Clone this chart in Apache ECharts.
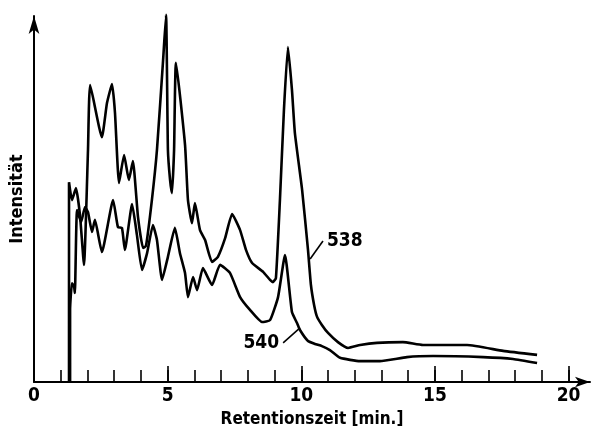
<!DOCTYPE html>
<html>
<head>
<meta charset="utf-8">
<script src="https://cdn.jsdelivr.net/npm/echarts@6/dist/echarts.min.js"></script>
<style>
  html, body { margin: 0; padding: 0; background: #fff; }
  #chart { width: 598px; height: 436px; }
</style>
</head>
<body>
<div id="chart"></div>
<script>
// Retentionszeit [min] / Intensität (relative Einheiten)
var curve538 = [
  [1.31, 0], [1.31, 54.6], [1.42, 49.7], [1.57, 53.0], [1.72, 45.6], [1.87, 32.0],
  [2.02, 63.4], [2.10, 81.1], [2.54, 66.9], [2.73, 76.2], [2.92, 81.4], [3.03, 73.5],
  [3.18, 54.4], [3.37, 62.0], [3.55, 55.2], [3.70, 60.4], [3.89, 45.1], [4.08, 36.6],
  [4.19, 37.2], [4.41, 49.7], [4.60, 63.4], [4.83, 88.0], [4.94, 100.3], [5.01, 63.4],
  [5.09, 55.2], [5.16, 51.6], [5.24, 63.4], [5.31, 87.2], [5.65, 64.8], [5.76, 49.7],
  [5.91, 43.4], [6.02, 48.9], [6.21, 41.5], [6.40, 38.8], [6.66, 32.8], [6.88, 34.2],
  [7.15, 39.3], [7.41, 45.9], [7.71, 41.5], [7.93, 36.1], [8.16, 32.5], [8.57, 30.1],
  [8.83, 27.9], [8.94, 27.3], [9.05, 28.4], [9.20, 49.7], [9.35, 74.3], [9.50, 91.5],
  [9.65, 79.8], [9.76, 68.0], [10.03, 52.5], [10.25, 36.1], [10.36, 26.5], [10.48, 21.0],
  [10.59, 17.8], [10.77, 15.6], [11.00, 13.4], [11.37, 10.9], [11.75, 9.3], [12.20, 10.1],
  [12.83, 10.7], [13.80, 10.9], [14.55, 10.1], [16.20, 10.1], [17.55, 8.5], [18.82, 7.4]
];
var curve540 = [
  [1.35, 0], [1.35, 19.7], [1.42, 27.0], [1.50, 26.0], [1.53, 24.3], [1.61, 47.0],
  [1.76, 43.7], [1.91, 47.8], [2.02, 46.4], [2.17, 41.0], [2.28, 44.3], [2.54, 35.5],
  [2.96, 49.7], [3.14, 42.3], [3.29, 42.1], [3.40, 36.1], [3.67, 48.6], [3.85, 40.2],
  [4.04, 30.6], [4.23, 35.2], [4.45, 42.9], [4.60, 38.8], [4.79, 27.9], [5.01, 34.2],
  [5.27, 42.1], [5.46, 35.2], [5.65, 29.8], [5.76, 23.2], [5.95, 28.7], [6.10, 25.1],
  [6.32, 31.1], [6.66, 26.5], [6.96, 32.0], [7.33, 29.8], [7.71, 23.2], [8.08, 19.7],
  [8.53, 16.4], [8.83, 16.9], [9.13, 23.2], [9.39, 34.7], [9.65, 19.1], [9.84, 16.1],
  [9.95, 14.2], [10.25, 11.2], [10.51, 10.4], [10.77, 9.8], [11.07, 8.7], [11.45, 6.6],
  [12.20, 5.7], [12.94, 5.7], [13.95, 6.8], [14.93, 7.1], [16.80, 6.8], [17.92, 6.3],
  [18.82, 5.2]
];
var minorTicks = [0, 1, 2, 3, 4, 5, 6, 7, 8, 9, 10, 11, 12, 13, 14, 15, 16, 17, 18, 19, 20];
var majorTicks = [5, 10, 15, 20];
var tickLabels = [0, 5, 10, 15, 20];
// Bezugslinien der Kurvenbeschriftung
var lead538 = [[10.33, 33.6], [10.81, 38.5]];
var lead540 = [[9.95, 14.8], [9.32, 10.7]];

var font = "'DejaVu Sans Condensed', 'DejaVu Sans', sans-serif";

function leader(pts) {
  return {
    silent: true,
    symbol: ["none", "none"],
    lineStyle: { color: "#000", width: 1.6, type: "solid" },
    label: { show: false },
    data: [[{ coord: pts[0] }, { coord: pts[1] }]]
  };
}

function tag(pts, text, side) {
  return {
    silent: true,
    symbol: "circle",
    symbolSize: 2,
    itemStyle: { color: "rgba(0,0,0,0)" },
    label: {
      show: true,
      position: side,
      distance: 3,
      formatter: text,
      color: "#000",
      fontFamily: font,
      fontWeight: "bold",
      fontSize: 19
    },
    data: [{ coord: pts[1] }]
  };
}

var myChart = echarts.init(document.getElementById("chart"));
myChart.setOption({
  animation: false,
  backgroundColor: "#fff",
  grid: { left: 34, right: 8, top: 16, bottom: 54 },
  xAxis: [
    {
      type: "value",
      min: 0,
      max: 20.8,
      interval: 1,
      name: "Retentionszeit [min.]",
      nameLocation: "middle",
      nameGap: 28,
      nameTextStyle: { color: "#000", fontFamily: font, fontWeight: "bold", fontSize: 17 },
      splitLine: { show: false },
      axisLine: {
        onZero: false,
        symbol: ["none", "arrow"],
        symbolSize: [8, 15],
        lineStyle: { color: "#000", width: 2 }
      },
      axisTick: {
        inside: true,
        length: 12,
        customValues: minorTicks,
        lineStyle: { color: "#000", width: 1.6 }
      },
      axisLabel: {
        customValues: tickLabels,
        color: "#000",
        fontFamily: font,
        fontWeight: "bold",
        fontSize: 19,
        margin: 5
      }
    },
    {
      type: "value",
      min: 0,
      max: 20.8,
      interval: 1,
      position: "bottom",
      splitLine: { show: false },
      axisLine: { show: false, onZero: false },
      axisLabel: { show: false },
      axisTick: {
        inside: true,
        length: 16,
        customValues: majorTicks,
        lineStyle: { color: "#000", width: 1.6 }
      }
    }
  ],
  yAxis: {
    type: "value",
    min: 0,
    max: 100,
    name: "Intensität",
    nameLocation: "middle",
    nameRotate: 90,
    nameGap: 8,
    nameTextStyle: { color: "#000", fontFamily: font, fontWeight: "bold", fontSize: 18 },
    splitLine: { show: false },
    axisTick: { show: false },
    axisLabel: { show: false },
    axisLine: {
      show: true,
      symbol: ["none", "arrow"],
      symbolSize: [8, 18],
      lineStyle: { color: "#000", width: 2 }
    }
  },
  series: [
    {
      name: "538",
      type: "line",
      data: curve538,
      showSymbol: false,
      clip: false,
      smooth: 0.15,
      lineStyle: { color: "#000", width: 2.6 },
      markLine: leader(lead538),
      markPoint: tag(lead538, "538", "right")
    },
    {
      name: "540",
      type: "line",
      data: curve540,
      showSymbol: false,
      clip: false,
      smooth: 0.15,
      lineStyle: { color: "#000", width: 2.6 },
      markLine: leader(lead540),
      markPoint: tag(lead540, "540", "left")
    }
  ]
});
</script>
</body>
</html>
